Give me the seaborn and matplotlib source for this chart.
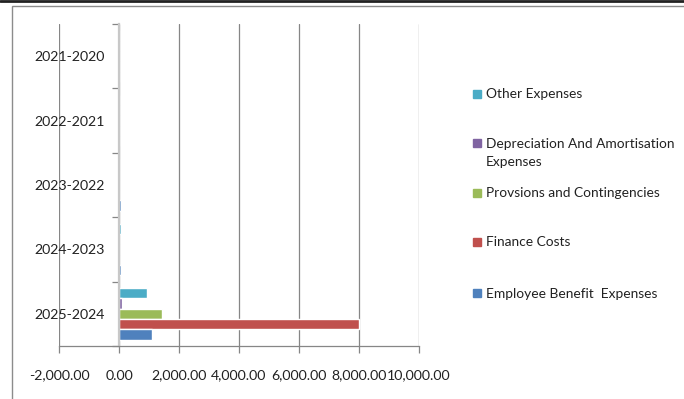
import seaborn as sns
import matplotlib.pyplot as plt
import matplotlib.ticker as mticker
import pandas as pd
from matplotlib.lines import Line2D

sns.set_theme(style="white")
plt.rcParams['font.family'] = ['Lato', 'DejaVu Sans']

# Data
periods = ['2021-2020', '2022-2021', '2023-2022', '2024-2023', '2025-2024']
other = [0, 0, 0, 50, 930]
depreciation = [0, 0, 0, 0, 100]
provisions = [0, 0, 0, 0, 1430]
finance = [0, 0, 0, 0, 8000]
employee = [0, 0, 50, 50, 1100]

series = {
    'Other Expenses': other,
    'Depreciation And Amortisation\nExpenses': depreciation,
    'Provsions and Contingencies': provisions,
    'Finance Costs': finance,
    'Employee Benefit  Expenses': employee,
}
colors = ['#4BACC6', '#8064A2', '#9BBB59', '#C0504D', '#4F81BD']

rows = []
for name, vals in series.items():
    for p, v in zip(periods, vals):
        rows.append({'period': p, 'expense': name, 'value': v})
df = pd.DataFrame(rows)

fig = plt.figure(figsize=(6.84, 3.99), dpi=100)
ax = fig.add_axes([59/684, 1-346/399, 360/684, 322/399])

sns.barplot(data=df, y='period', x='value', hue='expense', order=periods,
            hue_order=list(series.keys()), palette=colors, orient='h',
            width=0.8, saturation=1, ax=ax, legend=False)

ax.set_xlim(-2000, 10000)
ax.set_ylim(len(periods)-0.5, -0.5)
ax.xaxis.set_major_locator(mticker.MultipleLocator(2000))
ax.xaxis.set_major_formatter(mticker.FuncFormatter(lambda x, _: f"{x:,.2f}"))
ax.grid(axis='x', color='#868686', linewidth=0.9)
ax.set_axisbelow(True)

# category axis sits at x = 0
ax.spines['left'].set_position(('data', 0))
ax.spines['left'].set_color('#c8c8c8')
ax.spines['left'].set_linewidth(1.6)
ax.spines['right'].set_visible(False)
ax.spines['top'].set_visible(False)
ax.spines['bottom'].set_color('#868686')
ax.spines['bottom'].set_linewidth(0.9)

ax.set_yticks(range(len(periods)))
ax.set_yticklabels(periods)
ax.set_yticks([i - 0.5 for i in range(len(periods) + 1)], minor=True)
ax.tick_params(axis='y', which='major', length=0, pad=10, labelsize=10.2, labelcolor='#222222')
ax.tick_params(axis='y', which='minor', length=5, color='#868686', width=0.9, left=True)
ax.tick_params(axis='x', which='major', length=5, color='#868686', width=0.9, bottom=True,
               pad=12, labelsize=10.2, labelcolor='#222222')
ax.set_xlabel('')
ax.set_ylabel('')

# legend placed by hand, like the spreadsheet legend
legend_y = [94, 143, 193, 242, 293]
for (name, c, yy) in zip(series.keys(), colors, legend_y):
    fy = 1 - yy/399
    fig.add_artist(Line2D([477/684], [fy], marker='s', markersize=6, color=c,
                          linestyle='', transform=fig.transFigure))
    fig.text(486/684, fy + 5.5/399, name, fontsize=9.9, color='#222222',
             va='top', ha='left', linespacing=1.7)

# chart area border and top rule
fig.patches.append(plt.Rectangle((12/684, -0.1), 1.0, 1-6/399+0.1, transform=fig.transFigure,
                                 fill=False, edgecolor='#8c8c8c', linewidth=1.0))
fig.add_artist(Line2D([0, 1], [1-1/399, 1-1/399], transform=fig.transFigure,
                      color='#222222', linewidth=2.0))

fig.savefig('out.png', dpi=100)
